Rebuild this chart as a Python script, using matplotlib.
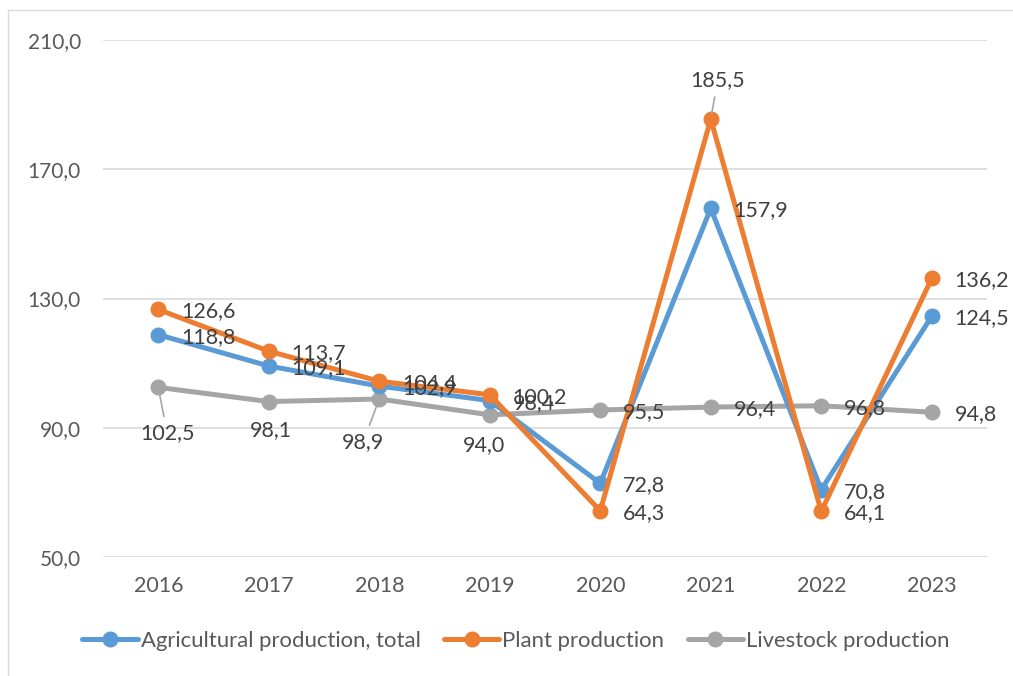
import numpy as np
import matplotlib
matplotlib.use("Agg")
import matplotlib.pyplot as plt
from matplotlib.lines import Line2D

plt.rcParams['font.family'] = ['Lato', 'DejaVu Sans']

years = ["2016", "2017", "2018", "2019", "2020", "2021", "2022", "2023"]
agri_total = [118.8, 109.1, 102.9, 98.4, 72.8, 157.9, 70.8, 124.5]
plant = [126.6, 113.7, 104.4, 100.2, 64.3, 185.5, 64.1, 136.2]
livestock = [102.5, 98.1, 98.9, 94.0, 95.5, 96.4, 96.8, 94.8]
y_ticks = [50, 90, 130, 170, 210]

BLUE, ORANGE, GREY = "#5B9BD5", "#ED7D31", "#A5A5A5"
TXT = "#404040"
TICK = "#595959"
GRID = "#D9D9D9"

W, H = 1013, 676
fig = plt.figure(figsize=(W / 100, H / 100), dpi=100)
ax = fig.add_axes([103 / W, 1 - 557 / H, (987 - 103) / W, (557 - 40) / H])

x = np.arange(len(years))
style = dict(lw=3.6, marker="o", ms=10.5, solid_capstyle="round")
l_live, = ax.plot(x, livestock, color=GREY, zorder=2, label="Livestock production", **style)
l_agri, = ax.plot(x, agri_total, color=BLUE, zorder=3, label="Agricultural production, total", **style)
l_plant, = ax.plot(x, plant, color=ORANGE, zorder=4, label="Plant production", **style)

ax.set_xlim(-0.5, len(years) - 0.5)
ax.set_ylim(50, 210)
ax.set_yticks(y_ticks)
ax.set_yticklabels([f"{v:.1f}".replace(".", ",") for v in y_ticks])
ax.set_xticks(x)
ax.set_xticklabels(years)
ax.tick_params(axis="y", length=0, pad=16, labelsize=15, labelcolor=TICK)
ax.tick_params(axis="x", length=0, pad=14, labelsize=15.5, labelcolor=TICK)
ax.grid(axis="y", color=GRID, lw=1.2)
ax.set_axisbelow(True)
for s in ax.spines.values():
    s.set_visible(False)


def fmt(v):
    return f"{v:.1f}".replace(".", ",")


# default label: right of point; exceptions (centered, offset in px, leader line)
special = {
    ("live", 0): (9, -46, True),
    ("live", 1): (2, -29, False),
    ("live", 2): (-16, -43, True),
    ("live", 3): (-6, -30, False),
    ("plant", 5): (7, 39, True),
}

for key, vals in (("agri", agri_total), ("plant", plant), ("live", livestock)):
    for i, v in enumerate(vals):
        if (key, i) in special:
            dx, dy, leader = special[(key, i)]
            ap = dict(arrowstyle="-", color=GREY, lw=1.2, shrinkA=3, shrinkB=4) if leader else None
            ax.annotate(fmt(v), xy=(i, v), xytext=(dx, dy), textcoords="offset pixels",
                        ha="center", va="center", fontsize=15.5, color=TXT,
                        arrowprops=ap, zorder=6)
        else:
            ax.annotate(fmt(v), xy=(i, v), xytext=(23, -2), textcoords="offset pixels",
                        ha="left", va="center", fontsize=15.5, color=TXT, zorder=6)

fig.legend(handles=[l_agri, l_plant, l_live], loc="center",
           bbox_to_anchor=(516 / W, 1 - 641 / H), ncol=3, frameon=False,
           fontsize=15.9, handlelength=2.5, handletextpad=0.15, columnspacing=1.05,
           labelcolor=TICK)

# chart frame (left and top edges visible)
fig.add_artist(Line2D([7.5 / W, 7.5 / W], [0, 1 - 10 / H], transform=fig.transFigure, color=GRID, lw=1))
fig.add_artist(Line2D([7.5 / W, 1], [1 - 10 / H, 1 - 10 / H], transform=fig.transFigure, color=GRID, lw=1))

fig.savefig("out.png", dpi=100)
